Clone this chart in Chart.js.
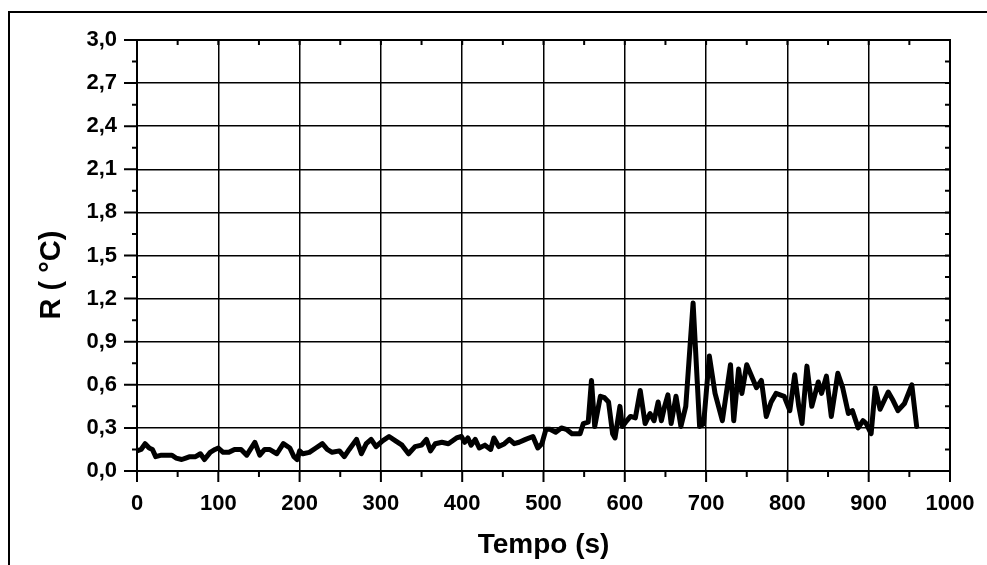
<!DOCTYPE html>
<html>
<head>
<meta charset="utf-8">
<script src="https://cdn.jsdelivr.net/npm/chart.js@4"></script>
<style>
  body { margin: 0; background: #fff; }
  canvas { display: block; }
</style>
</head>
<body>
<canvas id="myChart" width="987" height="565"></canvas>
<script>
// tempo (s) and R (°C)
const tempo = [0, 5, 10, 15, 19, 23, 30, 37, 43, 48, 55, 60, 65, 72, 78, 83, 90, 96, 100, 106,
  113, 120, 128, 135, 145, 151, 157, 163, 172, 180, 188, 193, 197, 200, 204, 212, 220, 228, 234, 240,
  249, 255, 261, 270, 276, 282, 288, 294, 302, 310, 318, 326, 334, 342, 350, 356, 361, 367, 375, 383,
  393, 399, 403, 407, 411, 416, 421, 428, 435, 439, 445, 452, 458, 464, 470, 478, 487, 493, 498, 503,
  508, 515, 522, 528, 535, 545, 549, 555, 559, 563, 570, 575, 580, 585, 588, 594, 597, 601, 607, 613,
  619, 625, 631, 636, 641, 645, 649, 653, 657, 663, 669, 675, 684, 692, 697, 704, 711, 720, 730, 734,
  740, 744, 750, 756, 762, 768, 774, 780, 786, 796, 803, 809, 814, 818, 824, 830, 838, 842, 848, 854,
  862, 868, 875, 880, 887, 893, 897, 903, 908, 914, 924, 930, 936, 944, 953, 959];
const rValues = [0.14, 0.15, 0.19, 0.16, 0.15, 0.10, 0.11, 0.11, 0.11, 0.09, 0.08, 0.09, 0.10, 0.10, 0.12, 0.08, 0.13, 0.15, 0.16, 0.13,
  0.13, 0.15, 0.15, 0.11, 0.20, 0.11, 0.15, 0.15, 0.12, 0.19, 0.16, 0.10, 0.08, 0.14, 0.12, 0.13, 0.16, 0.19, 0.15, 0.13,
  0.14, 0.10, 0.15, 0.22, 0.12, 0.19, 0.22, 0.17, 0.21, 0.24, 0.21, 0.18, 0.12, 0.17, 0.18, 0.22, 0.14, 0.19, 0.20, 0.19,
  0.23, 0.24, 0.20, 0.23, 0.18, 0.22, 0.16, 0.18, 0.15, 0.23, 0.17, 0.19, 0.22, 0.19, 0.20, 0.22, 0.24, 0.16, 0.19, 0.29,
  0.29, 0.27, 0.30, 0.29, 0.26, 0.26, 0.33, 0.34, 0.63, 0.31, 0.52, 0.51, 0.48, 0.26, 0.23, 0.45, 0.31, 0.34, 0.38, 0.37,
  0.56, 0.33, 0.40, 0.35, 0.48, 0.35, 0.45, 0.53, 0.33, 0.52, 0.31, 0.45, 1.17, 0.31, 0.33, 0.80, 0.54, 0.35, 0.74, 0.35,
  0.71, 0.54, 0.74, 0.66, 0.58, 0.63, 0.38, 0.48, 0.54, 0.52, 0.42, 0.67, 0.45, 0.33, 0.73, 0.45, 0.62, 0.54, 0.66, 0.38,
  0.68, 0.58, 0.40, 0.42, 0.30, 0.35, 0.33, 0.26, 0.58, 0.43, 0.55, 0.49, 0.42, 0.47, 0.60, 0.31];

const xTicks = [0, 100, 200, 300, 400, 500, 600, 700, 800, 900, 1000];
const xTickLabels = ['0', '100', '200', '300', '400', '500', '600', '700', '800', '900', '1000'];
const yTicks = [0, 0.3, 0.6, 0.9, 1.2, 1.5, 1.8, 2.1, 2.4, 2.7, 3.0];
const yTickLabels = ['0,0', '0,3', '0,6', '0,9', '1,2', '1,5', '1,8', '2,1', '2,4', '2,7', '3,0'];

const fontFam = '"Liberation Sans", Arial, sans-serif';

// frame, box, minor/major tick marks and the y title
const extras = {
  id: 'extras',
  afterDraw(chart) {
    const c = chart.ctx;
    const a = chart.chartArea;
    const xs = chart.scales.x, ys = chart.scales.y;
    c.save();
    c.strokeStyle = '#000';
    // outer frame of the figure
    c.lineWidth = 2;
    c.beginPath();
    c.moveTo(9, 565);
    c.lineTo(9, 12);
    c.lineTo(987, 12);
    c.stroke();
    // box
    c.strokeRect(a.left, a.top, a.right - a.left, a.bottom - a.top);
    // ticks
    c.beginPath();
    for (let v = 0; v <= 1000; v += 50) {
      const px = xs.getPixelForValue(v);
      const major = v % 100 === 0;
      c.moveTo(px, a.bottom);
      c.lineTo(px, a.bottom + (major ? 11 : 6));
      c.moveTo(px, a.top);
      c.lineTo(px, a.top + 5);
    }
    for (let i = 0; i <= 20; i++) {
      const py = ys.getPixelForValue(i * 0.15);
      const major = i % 2 === 0;
      c.moveTo(a.left, py);
      c.lineTo(a.left - (major ? 13 : 5), py);
      c.moveTo(a.right, py);
      c.lineTo(a.right - 5, py);
    }
    c.stroke();
    // y title
    c.translate(52, 275);
    c.rotate(-Math.PI / 2);
    c.fillStyle = '#000';
    c.font = 'bold 29px ' + fontFam;
    c.textAlign = 'center';
    c.textBaseline = 'middle';
    c.fillText('R ( °C)', 0, 0);
    c.restore();
  }
};

const ctx = document.getElementById('myChart').getContext('2d');
const chart = new Chart(ctx, {
  type: 'line',
  data: {
    datasets: [{
      data: tempo.map((t, i) => ({ x: t, y: rValues[i] })),
      borderColor: '#000',
      borderWidth: 5,
      pointRadius: 0,
      tension: 0,
      borderJoinStyle: 'round',
      borderCapStyle: 'round'
    }]
  },
  options: {
    responsive: false,
    animation: false,
    layout: { padding: { top: 40, right: 37, left: 0, bottom: 0 } },
    plugins: { legend: { display: false }, tooltip: { enabled: false } },
    scales: {
      x: {
        type: 'linear',
        min: 0,
        max: 1000,
        afterBuildTicks: s => { s.ticks = xTicks.map(v => ({ value: v })); },
        afterFit: s => { s.height = 94; s.paddingLeft = 0; s.paddingRight = 0; },
        grid: { color: '#000', lineWidth: 1.5, drawTicks: false },
        border: { color: '#000', width: 2 },
        ticks: {
          padding: 20,
          color: '#000',
          maxRotation: 0,
          font: { family: fontFam, size: 22, weight: 'bold' },
          callback: (v, i) => xTickLabels[i]
        },
        title: {
          display: true,
          text: 'Tempo (s)',
          color: '#000',
          font: { family: fontFam, size: 28, weight: 'bold', lineHeight: 1.2 },
          padding: { top: 0, bottom: 3 }
        }
      },
      y: {
        min: 0,
        max: 3,
        afterBuildTicks: s => { s.ticks = yTicks.map(v => ({ value: v })); },
        afterFit: s => { s.width = 137; s.paddingTop = 0; s.paddingBottom = 0; },
        grid: { color: '#000', lineWidth: 1.5, drawTicks: false },
        border: { color: '#000', width: 2 },
        ticks: {
          padding: 20,
          color: '#000',
          font: { family: fontFam, size: 22, weight: 'bold' },
          callback: (v, i) => yTickLabels[i]
        }
      }
    }
  },
  plugins: [extras]
});
</script>
</body>
</html>
